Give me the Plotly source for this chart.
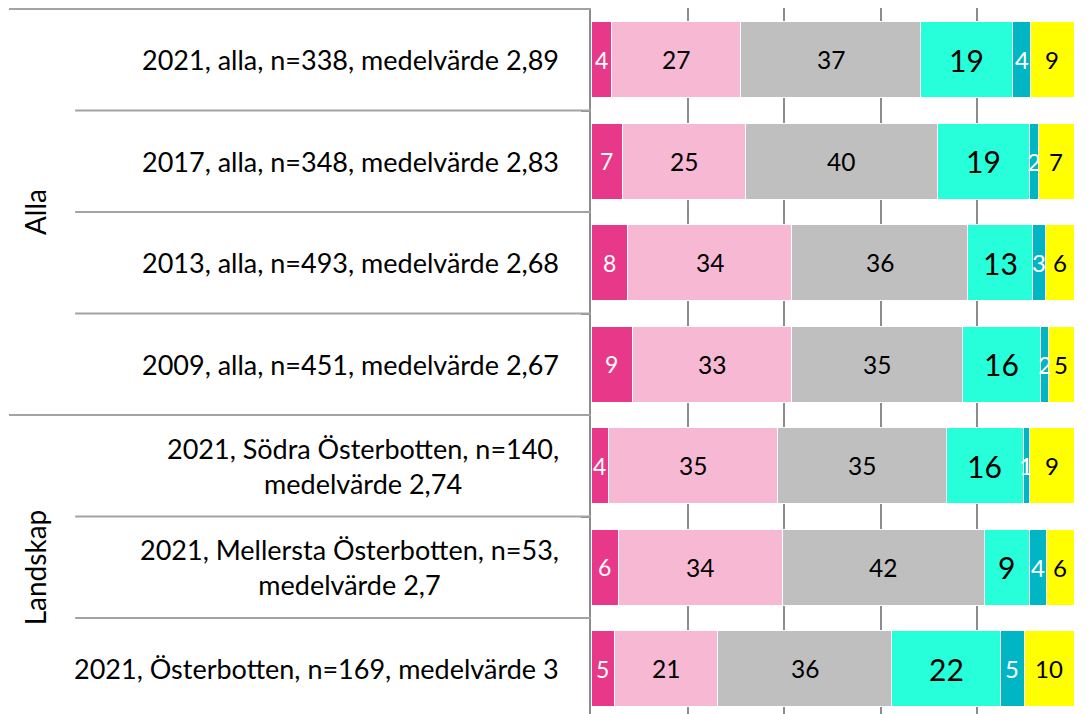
import plotly.graph_objects as go
import numpy as np

categories = [
    "2021, alla, n=338, medelvärde 2,89",
    "2017, alla, n=348, medelvärde 2,83",
    "2013, alla, n=493, medelvärde 2,68",
    "2009, alla, n=451, medelvärde 2,67",
    "2021, Södra Österbotten, n=140,<br>medelvärde 2,74",
    "2021, Mellersta Österbotten, n=53,<br>medelvärde 2,7",
    "2021, Österbotten, n=169, medelvärde 3",
]
groups = ["Alla", "Landskap"]
group_rows = [[0, 1, 2, 3], [4, 5, 6]]

series_names = ["1", "2", "3", "4", "5", "Vet ej"]
s1 = [4.2, 6.6, 7.6, 8.6, 3.6, 5.6, 4.8]
s2 = [26.8, 25.3, 34.0, 33.0, 35.0, 34.0, 21.4]
s3 = [37.3, 39.8, 36.4, 35.4, 34.9, 41.8, 36.1]
s4 = [19.0, 19.0, 13.4, 16.0, 16.0, 9.3, 22.4]
s5 = [3.7, 1.9, 2.6, 1.8, 1.3, 3.7, 5.0]
s6 = [9.0, 7.4, 6.0, 5.2, 9.2, 5.6, 10.3]
series = [s1, s2, s3, s4, s5, s6]

colors = ["#E8388A", "#F6B8D3", "#BFBFBF", "#26FFD9", "#00B5C4", "#FFFF00"]
text_colors = ["white", "black", "black", "black", "white", "black"]
text_sizes = [23, 24.5, 24.5, 30, 24, 24]

FONT = "Lato"
ypos = list(range(len(categories)))

fig = go.Figure()
for name, vals, col in zip(series_names, series, colors):
    fig.add_trace(go.Bar(
        y=ypos, x=vals, name=name, orientation="h",
        marker=dict(color=col, line=dict(color="white", width=1)),
        width=0.75, hoverinfo="x+name",
    ))

annotations = []
cum = np.zeros(len(categories))
for vals, tc, ts in zip(series, text_colors, text_sizes):
    v = np.array(vals)
    mids = cum + v / 2
    for i, (m, val) in enumerate(zip(mids, v)):
        annotations.append(dict(
            x=m, y=i, xref="x", yref="y", text=f"{val:.0f}", showarrow=False,
            font=dict(family=FONT, size=ts, color=tc), xanchor="center", yanchor="middle",
        ))
    cum += v

# plot area: 483 px wide, left margin 583 px
for i, c in enumerate(categories):
    annotations.append(dict(
        x=-0.062, y=i, xref="paper", yref="y", text=c, showarrow=False,
        xanchor="right", yanchor="middle", align="center",
        font=dict(family=FONT, size=27, color="black"),
    ))
for g, rows in zip(groups, group_rows):
    annotations.append(dict(
        x=-1.151, y=(rows[0] + rows[-1]) / 2, xref="paper", yref="y", text=g,
        showarrow=False, textangle=-90, xanchor="center", yanchor="middle",
        font=dict(family=FONT, size=28, color="black"),
    ))

shapes = []
line_col = "#A3A3A3"
for b in [-0.5, 3.5, 6.5]:
    shapes.append(dict(type="line", xref="paper", yref="y", x0=-1.205, x1=0, y0=b, y1=b,
                       line=dict(color=line_col, width=2)))
for b in [0.5, 1.5, 2.5, 4.5, 5.5]:
    shapes.append(dict(type="line", xref="paper", yref="y", x0=-1.068, x1=0, y0=b, y1=b,
                       line=dict(color=line_col, width=2)))

row_h = 101.5
H = 706
top = -0.5 - 1 / row_h
bottom = top + H / row_h

fig.update_layout(
    barmode="stack", width=1081, height=H,
    margin=dict(l=583, r=15, t=0, b=0, autoexpand=False),
    plot_bgcolor="white", paper_bgcolor="white",
    showlegend=False,
    annotations=annotations, shapes=shapes,
    font=dict(family=FONT),
    xaxis=dict(range=[0, 100], tickvals=[0, 20, 40, 60, 80, 100], showticklabels=False,
               showgrid=True, gridcolor="#8C8C8C", gridwidth=2, zeroline=False, showline=False,
               fixedrange=True),
    yaxis=dict(range=[bottom, top], tickvals=[-0.5 + k for k in range(8)], showticklabels=False,
               ticks="outside", ticklen=8, tickcolor="#8C8C8C", tickwidth=2,
               showgrid=False, zeroline=False, showline=True, linecolor="#8C8C8C", linewidth=2,
               fixedrange=True),
)
fig.write_html("out.html")
